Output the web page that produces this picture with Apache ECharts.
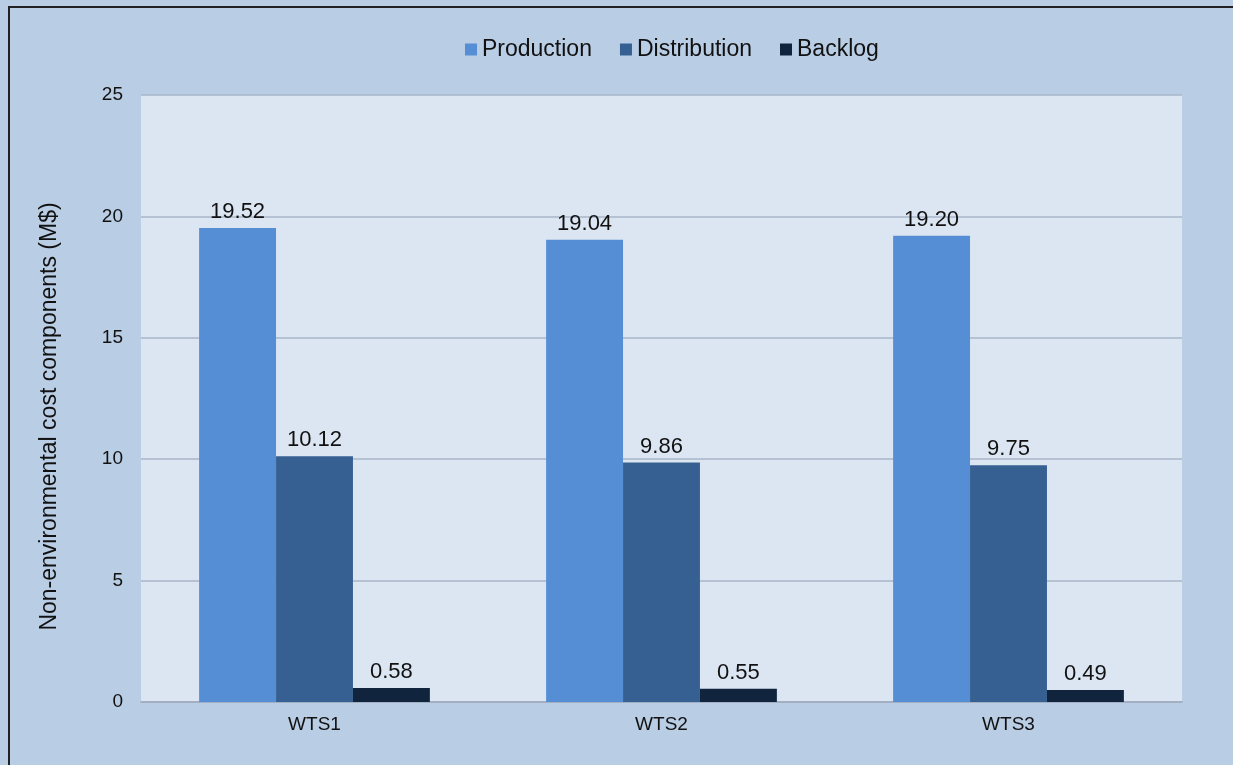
<!DOCTYPE html>
<html>
<head>
<meta charset="utf-8">
<script src="https://cdn.jsdelivr.net/npm/echarts@6/dist/echarts.min.js"></script>
<style>
  html, body { margin: 0; padding: 0; background: #b9cde5; }
  #chart { width: 1233px; height: 765px; }
</style>
</head>
<body>
<div id="chart"></div>
<script>
  // data
  const categories = ['WTS1', 'WTS2', 'WTS3'];
  const production = [19.52, 19.04, 19.20];
  const distribution = [10.12, 9.86, 9.75];
  const backlog = [0.58, 0.55, 0.49];

  const chart = echarts.init(document.getElementById('chart'));

  const labelStyle = {
    show: true,
    position: 'top',
    distance: 5,
    color: '#111',
    fontSize: 22,
    fontFamily: 'Liberation Sans',
    formatter: function (p) { return p.value.toFixed(2); }
  };

  const option = {
    backgroundColor: '#b9cde5',
    animation: false,
    textStyle: { fontFamily: 'Liberation Sans' },
    graphic: [
      // dark frame on top and left edges
      { type: 'line', shape: { x1: 8, y1: 7, x2: 1233, y2: 7 }, style: { stroke: '#222', lineWidth: 2 } },
      { type: 'line', shape: { x1: 9, y1: 6, x2: 9, y2: 765 }, style: { stroke: '#222', lineWidth: 2 } }
    ],
    legend: {
      top: 33,
      left: 460,
      itemWidth: 12,
      itemHeight: 12,
      itemGap: 28,
      itemTextGap: 7,
      icon: 'rect',
      textStyle: { fontSize: 23, color: '#111', fontFamily: 'Liberation Sans' },
      data: ['Production', 'Distribution', 'Backlog']
    },
    grid: {
      left: 141,
      right: 51,
      top: 95,
      bottom: 63,
      show: true,
      backgroundColor: '#dce6f2',
      borderWidth: 0
    },
    xAxis: {
      type: 'category',
      data: categories,
      axisTick: { show: false },
      axisLine: { lineStyle: { color: '#9eabbd', width: 1.5 } },
      axisLabel: { color: '#111', fontSize: 19, margin: 13 }
    },
    yAxis: {
      type: 'value',
      min: 0,
      max: 25,
      interval: 5,
      name: 'Non-environmental cost components (M$)',
      nameLocation: 'middle',
      nameGap: 80,
      nameTextStyle: { color: '#111', fontSize: 23, padding: [0, 36, 0, 0] },
      axisLine: { show: false },
      axisTick: { show: false },
      axisLabel: { color: '#111', fontSize: 19, margin: 18 },
      splitLine: { lineStyle: { color: '#a9b6c8', width: 1.5 } }
    },
    series: [
      {
        name: 'Production',
        type: 'bar',
        data: production,
        barGap: '0%',
        barCategoryGap: '33.5%',
        itemStyle: { color: '#558ed5' },
        label: labelStyle
      },
      {
        name: 'Distribution',
        type: 'bar',
        data: distribution,
        itemStyle: { color: '#376092' },
        label: labelStyle
      },
      {
        name: 'Backlog',
        type: 'bar',
        data: backlog,
        itemStyle: { color: '#10243e' },
        label: labelStyle
      }
    ]
  };

  chart.setOption(option);
</script>
</body>
</html>
